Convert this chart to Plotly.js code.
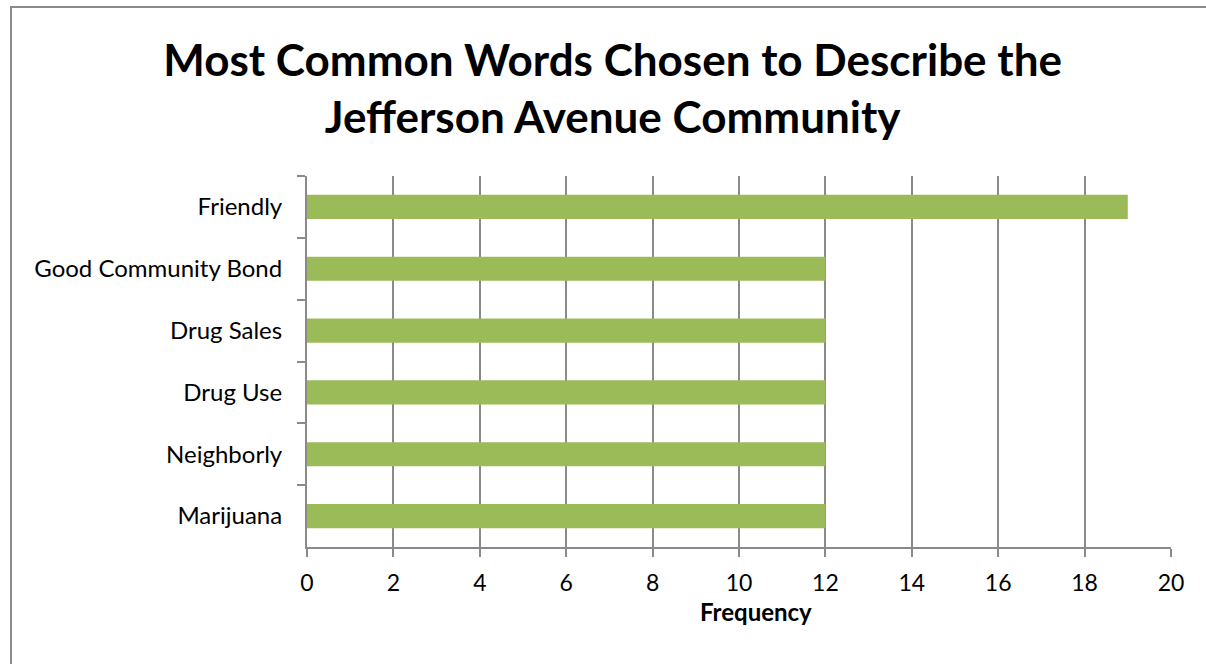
<!DOCTYPE html>
<html>
<head>
<meta charset="utf-8">
<script src="https://cdn.plot.ly/plotly-3.0.1.min.js"></script>
<style>
  html, body { margin: 0; padding: 0; background: #fff; overflow: hidden; }
  #chart { width: 1206px; height: 664px; position: absolute; left: 0; top: 0; }
  #frame { position: absolute; left: 10px; top: 6px; width: 1300px; height: 800px;
           border-left: 2px solid #8a8a8a; border-top: 2px solid #8a8a8a; pointer-events: none; }
</style>
</head>
<body>
<div id="chart"></div>
<div id="frame"></div>
<script>
const categories = ["Friendly", "Good Community Bond", "Drug Sales", "Drug Use", "Neighborly", "Marijuana"];
const frequency = [19, 12, 12, 12, 12, 12];
const xTicks = [0, 2, 4, 6, 8, 10, 12, 14, 16, 18, 20];

const font = "Lato, 'Open Sans', sans-serif";
const grey = "#8a8a8a";

Plotly.newPlot("chart", [{
  type: "bar",
  orientation: "h",
  y: categories,
  x: frequency,
  marker: { color: "#9BBB59" },
  hoverinfo: "x+y"
}], {
  width: 1206, height: 664,
  paper_bgcolor: "#fff", plot_bgcolor: "#fff",
  margin: { l: 307, r: 35, t: 176, b: 117 },
  bargap: 0.61,
  showlegend: false,
  font: { family: font, color: "#000" },
  title: {
    text: "<b>Most Common Words Chosen to Describe the<br>Jefferson Avenue Community</b>",
    font: { family: font, size: 44, color: "#000" },
    x: 0.508, xanchor: "center", y: 0.886, yanchor: "middle"
  },
  annotations: [{
    text: "<b>Frequency</b>",
    xref: "paper", yref: "paper",
    x: 0.52, y: -0.175, xanchor: "center", yanchor: "middle",
    showarrow: false,
    font: { family: font, size: 24, color: "#000" }
  }],
  xaxis: {
    range: [0, 20],
    tickvals: xTicks,
    ticktext: xTicks.map(String),
    showgrid: true, gridcolor: grey, gridwidth: 2,
    zeroline: false,
    showline: true, linecolor: grey, linewidth: 2,
    ticks: "outside", ticklen: 8, tickcolor: grey, tickwidth: 2,
    ticklabelstandoff: 6,
    tickfont: { family: font, size: 23, color: "#000" }
  },
  yaxis: {
    type: "category",
    autorange: "reversed",
    showgrid: false,
    zeroline: false,
    showline: true, linecolor: grey, linewidth: 2,
    ticks: "outside", ticklen: 8, tickcolor: grey, tickwidth: 2,
    tickson: "boundaries",
    ticklabelstandoff: 18,
    tickfont: { family: font, size: 24, color: "#000" }
  }
}, { displayModeBar: false, staticPlot: true });
</script>
</body>
</html>
